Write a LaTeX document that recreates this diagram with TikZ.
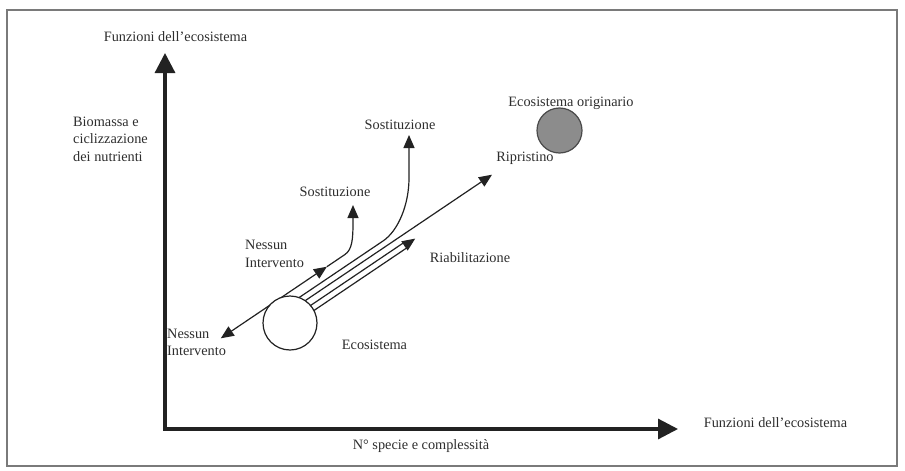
\documentclass[tikz,border=0pt]{standalone}
\usepackage{fontspec}
\setmainfont{Liberation Serif}
\usetikzlibrary{arrows.meta,calc}
\definecolor{ink}{HTML}{222222}
\definecolor{txt}{HTML}{2E2E2E}
\definecolor{framecol}{HTML}{7A7A7A}
\definecolor{grayfill}{HTML}{8C8C8C}
\definecolor{grayedge}{HTML}{4A4A4A}
\begin{document}
\begin{tikzpicture}[x=1pt,y=-1pt,
  lbl/.style={inner sep=0pt, text=txt, font=\fontsize{14.3}{17.5}\selectfont},
  axisline/.style={line width=3.2pt, draw=ink, line join=miter},
  flow/.style={line width=1.2pt, draw=ink},
  tip/.style={-{Triangle[length=13pt,width=11pt]}},
  bitip/.style={{Triangle[length=13pt,width=11pt]}-{Triangle[length=13pt,width=11pt]}},
]
\useasboundingbox (0,0) rectangle (905,471);
\fill[white] (0,0) rectangle (905,471);
\draw[framecol, line width=1.2pt] (7,10) rectangle (897,466);

% axes
\coordinate (ytip) at (165,53);
\coordinate (orig) at (165,429);
\coordinate (xtip) at (678,429);
\draw[axisline, {Triangle[length=20pt,width=20pt]}-{Triangle[length=20pt,width=20pt]}] (ytip) -- (orig) -- (xtip);

% axis labels
\node[lbl] (ytitle) at (175.5,37) {Funzioni dell'ecosistema};
\node[lbl] (xtitle) at (775.5,423) {Funzioni dell'ecosistema};
\node[lbl] (xsub) at (421,446) {N° specie e complessità};
\node[lbl, anchor=west, align=left] (ysub) at (73,139) {Biomassa e\\ciclizzazione\\dei nutrienti};

% path coordinates
\coordinate (A) at (220.8,338.3);
\coordinate (M) at (326.9,266.7);
\coordinate (K) at (345.1,254.4);
\coordinate (S2) at (353,205);
\coordinate (Pb) at (281.1,309.7);
\coordinate (B) at (383,241);
\coordinate (S1) at (409,135);
\coordinate (Pc) at (284.4,314.7);
\coordinate (R) at (492,174.7);
\coordinate (Pd) at (288.3,320.5);
\coordinate (Dd) at (404.4,242.2);
\coordinate (Pe) at (291.7,325.5);
\coordinate (De) at (407.8,247.2);
\coordinate (Hb) at (404.4,246.0);
\coordinate (Ht) at (415.2,238.6);

% connectors
\draw[flow, bitip] (A) -- (M);
\draw[flow, tip] (M) -- (K) .. controls (352,249.5) and (353,240) .. (353,222) -- (S2);
\draw[flow, tip] (Pb) -- (B) .. controls (398,231) and (409,205) .. (409,178) -- (S1);
\draw[flow, tip] (Pc) -- (R);
\draw[flow] (Pd) -- (Dd);
\draw[flow] (Pe) -- (De);
\draw[flow, tip] (Hb) -- (Ht);

% ecosystems
\node[circle, draw=ink, fill=white, line width=1.2pt, minimum size=54pt, inner sep=0pt] (eco) at (290,323) {};
\node[circle, draw=grayedge, fill=grayfill, line width=1.2pt, minimum size=45pt, inner sep=0pt] (origeco) at (559.5,130.5) {};

% labels
\node[lbl] (ecolbl) at (374.5,345) {Ecosistema};
\node[lbl] (origlbl) at (571,103) {Ecosistema originario};
\node[lbl] (ripr) at (525,158) {Ripristino};
\node[lbl] (sost1) at (400,125) {Sostituzione};
\node[lbl] (sost2) at (335,192) {Sostituzione};
\node[lbl] (riab) at (470,258) {Riabilitazione};
\node[lbl, anchor=west, align=left] (nessun1) at (245,254) {Nessun\\Intervento};
\node[lbl, anchor=west, align=left] (nessun2) at (167,342.5) {Nessun\\Intervento};
\end{tikzpicture}
\end{document}
